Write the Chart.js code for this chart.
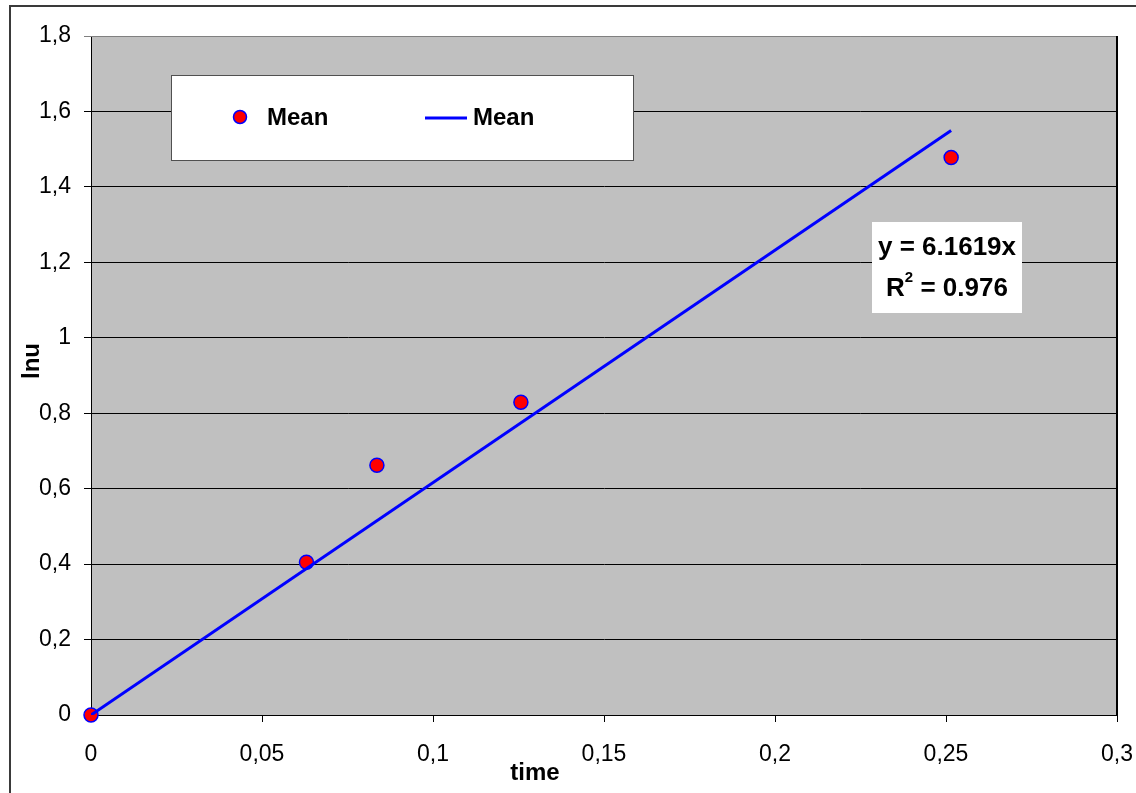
<!DOCTYPE html>
<html>
<head>
<meta charset="utf-8">
<title>lnu vs time</title>
<script src="https://cdn.jsdelivr.net/npm/chart.js@4/dist/chart.umd.min.js"></script>
<style>
  html, body { margin: 0; padding: 0; background: #ffffff; }
  #wrap { width: 1136px; height: 793px; }
</style>
</head>
<body>
<div id="wrap"><canvas id="chart" width="1136" height="793"></canvas></div>
<script>
// Measured series
const timeValues = [0, 0.063, 0.0836, 0.1257, 0.2515];
const lnuValues  = [0, 0.405, 0.662, 0.829, 1.478];

// Linear fit through the origin
const slope = 6.1619;
const rSquared = '0.976';
const trendStart = 0;
const trendEnd = 0.2515;

// Axis ticks
const xTickValues = [0, 0.05, 0.1, 0.15, 0.2, 0.25, 0.3];
const xTickLabels = ['0', '0,05', '0,1', '0,15', '0,2', '0,25', '0,3'];
const yTickValues = [0, 0.2, 0.4, 0.6, 0.8, 1, 1.2, 1.4, 1.6, 1.8];
const yTickLabels = ['0', '0,2', '0,4', '0,6', '0,8', '1', '1,2', '1,4', '1,6', '1,8'];

const seriesName = 'Mean';
const xTitle = 'time';
const yTitle = 'lnu';

const FONT = 'Arial, "Liberation Sans", sans-serif';
const PLOT_BG = '#c0c0c0';
const POINT_FILL = '#ff0000';
const POINT_EDGE = '#0000ff';
const LINE_COLOR = '#0000ff';

const points = timeValues.map((t, i) => ({ x: t, y: lnuValues[i] }));
const trend = [trendStart, trendEnd].map(t => ({ x: t, y: slope * t }));

// Outer frame, grey plot background and plot-area border
const frameAndBackground = {
  id: 'frameAndBackground',
  beforeDraw(chart) {
    const { ctx, chartArea: a } = chart;
    ctx.save();
    ctx.fillStyle = PLOT_BG;
    ctx.fillRect(a.left, a.top, a.right - a.left, a.bottom - a.top);
    ctx.strokeStyle = '#3a3a3a';
    ctx.lineWidth = 2;
    ctx.beginPath();
    ctx.moveTo(10, 793);
    ctx.lineTo(10, 6);
    ctx.lineTo(1136, 6);
    ctx.stroke();
    ctx.restore();
  },
  afterDatasetsDraw(chart) {
    const { ctx, chartArea: a } = chart;
    ctx.save();
    ctx.lineWidth = 1;
    ctx.strokeStyle = '#808080';
    ctx.beginPath();
    ctx.moveTo(a.left, a.top + 0.5);
    ctx.lineTo(a.right, a.top + 0.5);
    ctx.stroke();
    ctx.strokeStyle = '#000000';
    ctx.lineWidth = 2;
    ctx.beginPath();
    ctx.moveTo(a.right, a.top);
    ctx.lineTo(a.right, a.bottom);
    ctx.stroke();
    ctx.restore();
  }
};

// Axis titles, legend box and regression label
const annotations = {
  id: 'annotations',
  afterDraw(chart) {
    const { ctx } = chart;
    ctx.save();
    ctx.fillStyle = '#000000';
    ctx.textAlign = 'center';
    ctx.textBaseline = 'middle';

    // axis titles
    ctx.font = 'bold 24px ' + FONT;
    ctx.fillText(xTitle, 535, 773);
    ctx.save();
    ctx.translate(32, 361);
    ctx.rotate(-Math.PI / 2);
    ctx.fillText(yTitle, 0, 0);
    ctx.restore();

    // legend
    ctx.fillStyle = '#ffffff';
    ctx.fillRect(171, 75, 462, 85);
    ctx.strokeStyle = '#505050';
    ctx.lineWidth = 1;
    ctx.strokeRect(171.5, 75.5, 462, 85);

    ctx.beginPath();
    ctx.arc(240, 117, 6.5, 0, Math.PI * 2);
    ctx.fillStyle = POINT_FILL;
    ctx.fill();
    ctx.lineWidth = 1.5;
    ctx.strokeStyle = POINT_EDGE;
    ctx.stroke();

    ctx.beginPath();
    ctx.moveTo(425, 118);
    ctx.lineTo(467, 118);
    ctx.lineWidth = 3;
    ctx.strokeStyle = LINE_COLOR;
    ctx.stroke();

    ctx.fillStyle = '#000000';
    ctx.textAlign = 'left';
    ctx.font = 'bold 24px ' + FONT;
    ctx.fillText(seriesName, 267, 118);
    ctx.fillText(seriesName, 473, 118);

    // regression label
    ctx.fillStyle = '#ffffff';
    ctx.fillRect(872, 222, 150, 91);
    ctx.fillStyle = '#000000';
    ctx.font = 'bold 26px ' + FONT;
    ctx.textAlign = 'center';
    ctx.fillText('y = ' + slope + 'x', 947, 248);
    const rest = ' = ' + rSquared;
    const wR = ctx.measureText('R').width;
    ctx.font = 'bold 15px ' + FONT;
    const w2 = ctx.measureText('2').width;
    ctx.font = 'bold 26px ' + FONT;
    const wRest = ctx.measureText(rest).width;
    const total = wR + w2 + wRest;
    let x0 = 947 - total / 2;
    ctx.textAlign = 'left';
    ctx.fillText('R', x0, 289);
    ctx.font = 'bold 15px ' + FONT;
    ctx.fillText('2', x0 + wR, 278);
    ctx.font = 'bold 26px ' + FONT;
    ctx.fillText(rest, x0 + wR + w2, 289);
    ctx.restore();
  }
};

new Chart(document.getElementById('chart'), {
  type: 'scatter',
  data: {
    datasets: [
      {
        type: 'line',
        label: seriesName + ' fit',
        data: trend,
        borderColor: LINE_COLOR,
        borderWidth: 3,
        pointRadius: 0,
        fill: false,
        order: 0
      },
      {
        label: seriesName,
        data: points,
        backgroundColor: POINT_FILL,
        borderColor: POINT_EDGE,
        borderWidth: 1.5,
        pointRadius: 7,
        clip: false,
        order: 1
      }
    ]
  },
  options: {
    responsive: false,
    animation: false,
    devicePixelRatio: 1,
    layout: { padding: { left: 0, top: 36, right: 19, bottom: 0 } },
    plugins: { legend: { display: false }, tooltip: { enabled: false } },
    scales: {
      x: {
        type: 'linear',
        min: 0,
        max: 0.3,
        afterBuildTicks(scale) { scale.ticks = xTickValues.map(v => ({ value: v })); },
        afterFit(scale) {
          scale.height = 78;
          scale.paddingLeft = 0;
          scale.paddingRight = 0;
        },
        ticks: {
          autoSkip: false,
          maxRotation: 0,
          padding: 19,
          color: '#000000',
          font: { family: FONT, size: 23 },
          callback: (v, i) => xTickLabels[i]
        },
        grid: { drawOnChartArea: false, drawTicks: true, tickLength: 7, color: '#000000', lineWidth: 1 },
        border: { display: true, color: '#000000', width: 1 }
      },
      y: {
        type: 'linear',
        min: 0,
        max: 1.8,
        afterBuildTicks(scale) { scale.ticks = yTickValues.map(v => ({ value: v })); },
        afterFit(scale) {
          scale.width = 91;
          scale.paddingTop = 0;
          scale.paddingBottom = 0;
        },
        ticks: {
          autoSkip: false,
          padding: 13,
          color: '#000000',
          font: { family: FONT, size: 23 },
          callback: (v, i) => yTickLabels[i]
        },
        grid: {
          drawTicks: true,
          tickLength: 7,
          lineWidth: 1,
          color: ctx => (ctx.tick && ctx.tick.value === 1.8 ? '#808080' : '#000000')
        },
        border: { display: true, color: '#000000', width: 1 }
      }
    }
  },
  plugins: [frameAndBackground, annotations]
});
</script>
</body>
</html>
